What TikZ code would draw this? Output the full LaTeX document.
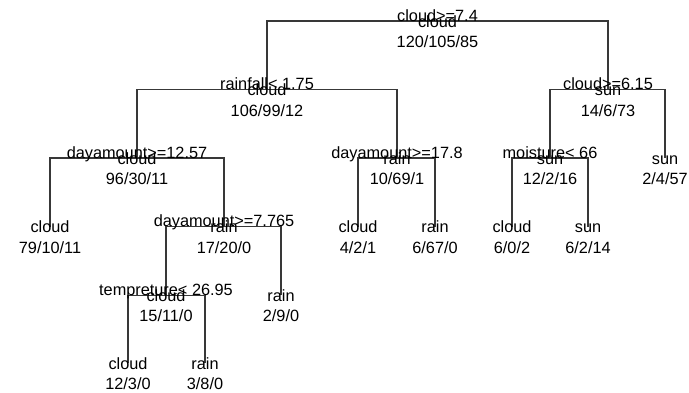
\documentclass[tikz,border=0pt]{standalone}
\usepackage{fontspec}
\setmainfont{Liberation Sans}
\tikzset{
  lbl/.style={inner sep=0pt, anchor=base, text=black, font=\fontsize{16.3}{19}\selectfont},
  edge/.style={draw=black!78, line width=1.25pt},
}
\newcommand\rtnode[6]{%
  \coordinate (#1) at (#2pt,-#3pt);
  \node[lbl] (#1-s) at ([yshift=0pt]#1) {#4};
  \node[lbl] (#1-c) at ([yshift=-6pt]#1) {#5};
  \node[lbl] (#1-n) at ([yshift=-26.5pt]#1) {#6};
}
\newcommand\rtleaf[5]{%
  \coordinate (#1) at (#2pt,-#3pt);
  \node[lbl] (#1-c) at ([yshift=-6pt]#1) {#4};
  \node[lbl] (#1-n) at ([yshift=-26.5pt]#1) {#5};
}
\newcommand\rtsplit[3]{%
  \draw[edge] (#2) -- (#2 |- #1) -- (#3 |- #1) -- (#3);
}
\begin{document}
\begin{tikzpicture}
\useasboundingbox (0,0) rectangle (689pt,-392pt);
% edges first (text drawn over them)
\coordinate (root) at (437.5pt,-21pt);
\coordinate (n2) at (267pt,-89.5pt);
\coordinate (n3) at (608pt,-89.5pt);
\coordinate (n4) at (137pt,-158pt);
\coordinate (n5) at (397pt,-158pt);
\coordinate (n6) at (550pt,-158pt);
\coordinate (n7) at (665pt,-158pt);
\coordinate (n8) at (50pt,-226.8pt);
\coordinate (n9) at (224pt,-226.8pt);
\coordinate (n10) at (358pt,-226.8pt);
\coordinate (n11) at (435pt,-226.8pt);
\coordinate (n12) at (512pt,-226.8pt);
\coordinate (n13) at (588pt,-226.8pt);
\coordinate (n14) at (166pt,-295.2pt);
\coordinate (n15) at (281pt,-295.2pt);
\coordinate (n16) at (128pt,-363pt);
\coordinate (n17) at (205pt,-363pt);
\rtsplit{root}{n2}{n3}
\rtsplit{n2}{n4}{n5}
\rtsplit{n3}{n6}{n7}
\rtsplit{n4}{n8}{n9}
\rtsplit{n5}{n10}{n11}
\rtsplit{n6}{n12}{n13}
\rtsplit{n9}{n14}{n15}
\rtsplit{n14}{n16}{n17}
% labels
\rtnode{t1}{437.5}{21}{cloud>=7.4}{cloud}{120/105/85}
\rtnode{t2}{267}{89.5}{rainfall< 1.75}{cloud}{106/99/12}
\rtnode{t3}{608}{89.5}{cloud>=6.15}{sun}{14/6/73}
\rtnode{t4}{137}{158}{dayamount>=12.57}{cloud}{96/30/11}
\rtnode{t5}{397}{158}{dayamount>=17.8}{rain}{10/69/1}
\rtnode{t6}{550}{158}{moisture< 66}{sun}{12/2/16}
\rtleaf{t7}{665}{158}{sun}{2/4/57}
\rtleaf{t8}{50}{226.8}{cloud}{79/10/11}
\rtnode{t9}{224}{226.8}{dayamount>=7.765}{rain}{17/20/0}
\rtleaf{t10}{358}{226.8}{cloud}{4/2/1}
\rtleaf{t11}{435}{226.8}{rain}{6/67/0}
\rtleaf{t12}{512}{226.8}{cloud}{6/0/2}
\rtleaf{t13}{588}{226.8}{sun}{6/2/14}
\rtnode{t14}{166}{295.2}{tempreture< 26.95}{cloud}{15/11/0}
\rtleaf{t15}{281}{295.2}{rain}{2/9/0}
\rtleaf{t16}{128}{363}{cloud}{12/3/0}
\rtleaf{t17}{205}{363}{rain}{3/8/0}
\end{tikzpicture}
\end{document}
